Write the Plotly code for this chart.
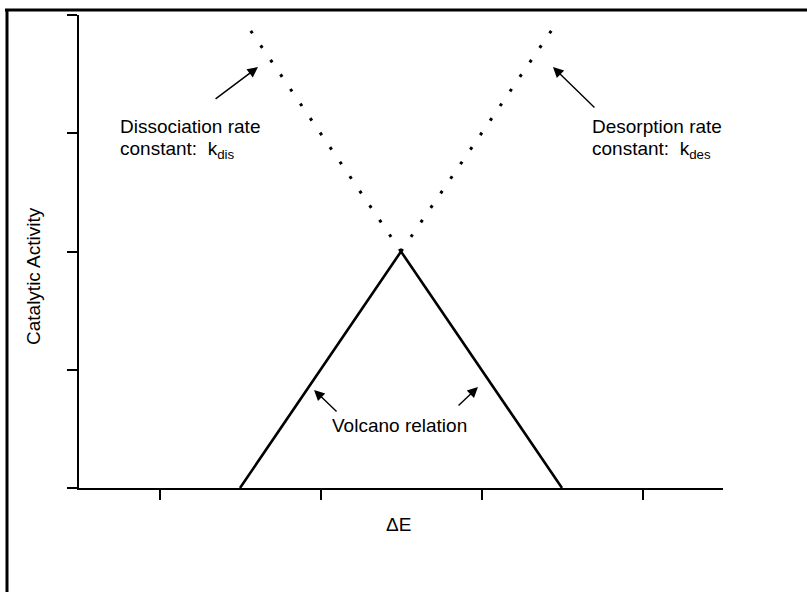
import plotly.graph_objects as go

# ---- data ----
volcano_x = [1.5, 2.5, 3.5]
volcano_y = [0.0, 2.0, 0.0]
kdis_x = [2.5, 1.53]
kdis_y = [2.0, 3.94]
kdes_x = [2.5, 3.47]
kdes_y = [2.0, 3.94]
x_ticks = [1, 2, 3, 4]
y_ticks = [0, 1, 2, 3, 4]

W, H = 807, 592
L, R, T, B = 79, 84, 15, 104
PW, PH = W - L - R, H - T - B


def px(x, y):
    return (x - L) / PW, (H - B - y) / PH


FONT = "Liberation Sans, Arial, sans-serif"

fig = go.Figure()
fig.add_trace(go.Scatter(x=kdis_x, y=kdis_y, mode="lines",
                         line=dict(color="black", width=3, dash="3px,14.6px"),
                         hoverinfo="skip"))
fig.add_trace(go.Scatter(x=kdes_x, y=kdes_y, mode="lines",
                         line=dict(color="black", width=3, dash="3px,14.6px"),
                         hoverinfo="skip"))
fig.add_trace(go.Scatter(x=volcano_x, y=volcano_y, mode="lines",
                         line=dict(color="black", width=2.6),
                         hoverinfo="skip"))

annotations = []


def text(s, x, y, xanchor="left", size=19, angle=0):
    xp, yp = px(x, y)
    annotations.append(dict(text=s, x=xp, y=yp, xref="paper", yref="paper",
                            xanchor=xanchor, yanchor="middle", showarrow=False,
                            textangle=angle, borderpad=0,
                            font=dict(family=FONT, size=size, color="black")))


text("Dissociation rate", 119, 126.5)
text("constant:\u00a0\u00a0k<sub>dis</sub>", 119, 150)
text("Desorption rate", 591, 126.5)
text("constant:\u00a0\u00a0k<sub>des</sub>", 591, 150)
text("Volcano relation", 331, 425)
text("\u0394E", 398, 524, xanchor="center")
text("Catalytic Activity", 33, 276, xanchor="center", angle=-90)

# arrows (head, tail) in data coordinates
arrows = [
    ((1.612, 3.560), (1.339, 3.281)),
    ((3.444, 3.560), (3.711, 3.205)),
    ((1.960, 0.829), (2.109, 0.634)),
    ((2.978, 0.854), (2.848, 0.685)),
]
for (hx, hy), (tx, ty) in arrows:
    annotations.append(dict(x=hx, y=hy, ax=tx, ay=ty, xref="x", yref="y",
                            axref="x", ayref="y", text="", showarrow=True,
                            arrowhead=2, arrowsize=1.5, arrowwidth=1.4,
                            arrowcolor="black"))

shapes = []
x0, y0 = px(7, 10)
x1, _ = px(812, 10)
_, y2 = px(7, 600)
shapes.append(dict(type="line", xref="paper", yref="paper", x0=px(5, 0)[0], x1=x1,
                   y0=y0, y1=y0, line=dict(color="black", width=3)))
shapes.append(dict(type="line", xref="paper", yref="paper", x0=x0, x1=x0,
                   y0=y0, y1=y2, line=dict(color="black", width=3)))

fig.update_layout(
    width=W, height=H,
    margin=dict(l=L, r=R, t=T, b=B),
    paper_bgcolor="white", plot_bgcolor="white",
    showlegend=False,
    annotations=annotations,
    shapes=shapes,
    xaxis=dict(range=[0.5, 4.5], tickvals=x_ticks, ticks="outside", ticklen=10,
               tickwidth=2, tickcolor="black", showticklabels=False,
               showline=True, linecolor="black", linewidth=2,
               showgrid=False, zeroline=False, fixedrange=True),
    yaxis=dict(range=[0, 4], tickvals=y_ticks, ticks="outside", ticklen=10,
               tickwidth=2, tickcolor="black", showticklabels=False,
               showline=True, linecolor="black", linewidth=2,
               showgrid=False, zeroline=False, fixedrange=True),
)

fig.write_html("out.html", config={"displayModeBar": False})
